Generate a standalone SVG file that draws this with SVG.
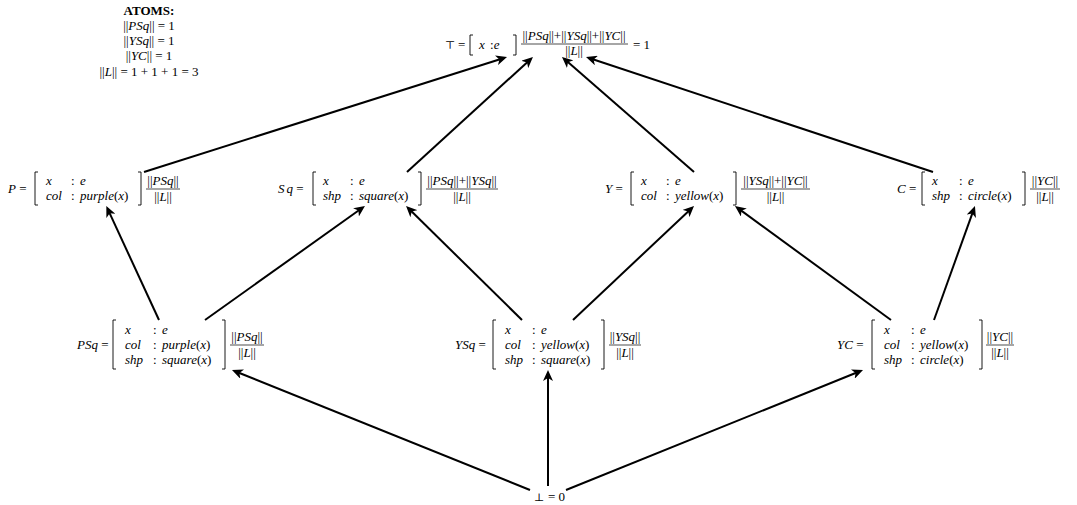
<svg xmlns="http://www.w3.org/2000/svg" width="1077" height="505" viewBox="0 0 1077 505">
<defs>
<style>
text{font-family:"Liberation Serif","Times New Roman",serif;font-size:13px;fill:#000}
.i{font-style:italic}
.bd{font-weight:bold}
.m{text-anchor:middle}
.sym{font-family:"DejaVu Serif","Liberation Serif",serif;font-size:11px}
.br{fill:none;stroke:#000;stroke-width:0.9}
.fb{stroke:#000;stroke-width:0.7}
.edge{stroke:#000;stroke-width:2;fill:none;marker-end:url(#ah)}
</style>
<marker id="ah" markerUnits="userSpaceOnUse" markerWidth="12" markerHeight="10" refX="7" refY="5" orient="auto">
<path d="M0,0 L11,5 L0,10 L3,5 z" fill="#000"/>
</marker>
</defs>
<rect width="1077" height="505" fill="#fff"/>

<g id="atoms">
<text class="m bd" x="149" y="15">ATOMS:</text>
<text class="m" x="149" y="30">||<tspan class="i">PSq</tspan>|| = 1</text>
<text class="m" x="149" y="45">||<tspan class="i">YSq</tspan>|| = 1</text>
<text class="m" x="149" y="60">||<tspan class="i">YC</tspan>|| = 1</text>
<text class="m" x="149" y="76">||<tspan class="i">L</tspan>|| = 1 + 1 + 1 = 3</text>
</g>

<g id="edges">
<line class="edge" x1="144" y1="172" x2="503.2" y2="58.2"/>
<line class="edge" x1="407" y1="172" x2="530" y2="59.7"/>
<line class="edge" x1="694" y1="172" x2="565" y2="59.6"/>
<line class="edge" x1="933" y1="172" x2="589.8" y2="58.3"/>
<line class="edge" x1="159" y1="320" x2="108" y2="209.6"/>
<line class="edge" x1="205" y1="320" x2="361.7" y2="208.3"/>
<line class="edge" x1="522" y1="320" x2="408.9" y2="208.8"/>
<line class="edge" x1="573" y1="320" x2="691.1" y2="208.7"/>
<line class="edge" x1="891" y1="320" x2="738.2" y2="208.4"/>
<line class="edge" x1="934" y1="320" x2="973.6" y2="209.8"/>
<line class="edge" x1="530" y1="490" x2="235.7" y2="371.5"/>
<line class="edge" x1="548" y1="486" x2="548" y2="374"/>
<line class="edge" x1="566" y1="490" x2="859.3" y2="371.5"/>
</g>

<g id="nTop">
<text class="sym" x="445" y="49">⊤</text>
<text x="458" y="49">=</text>
<path class="br" d="M473,35 H470 V55 H473"/>
<text class="i" x="479" y="49">x</text>
<text x="490" y="49">:<tspan class="i">e</tspan></text>
<path class="br" d="M513,35 H516 V55 H513"/>
<text class="m" x="574" y="40">||<tspan class="i">PSq</tspan>||+||<tspan class="i">YSq</tspan>||+||<tspan class="i">YC</tspan>||</text>
<line class="fb" x1="521" y1="44" x2="628" y2="44"/>
<text class="m" x="574" y="55">||<tspan class="i">L</tspan>||</text>
<text x="633" y="49">= 1</text>
</g>

<g id="nP">
<text x="8" y="193"><tspan class="i">P</tspan> =</text>
<path class="br" d="M38,172 H35 V205 H38"/>
<text class="i" x="46" y="185">x</text><text x="71" y="185">:</text><text class="i" x="80" y="185">e</text>
<text class="i" x="46" y="200">col</text><text x="71" y="200">:</text><text x="80" y="200"><tspan class="i">purple</tspan>(<tspan class="i">x</tspan>)</text>
<path class="br" d="M138,172 H141 V205 H138"/>
<text class="m" x="163" y="185">||<tspan class="i">PSq</tspan>||</text>
<line class="fb" x1="146" y1="189" x2="180" y2="189"/>
<text class="m" x="163" y="201">||<tspan class="i">L</tspan>||</text>
</g>

<g id="nSq">
<text x="278" y="193"><tspan class="i">S</tspan><tspan class="i" dx="2">q</tspan> =</text>
<path class="br" d="M316,172 H313 V205 H316"/>
<text class="i" x="323" y="185">x</text><text x="350" y="185">:</text><text class="i" x="359" y="185">e</text>
<text class="i" x="323" y="200">shp</text><text x="350" y="200">:</text><text x="359" y="200"><tspan class="i">square</tspan>(<tspan class="i">x</tspan>)</text>
<path class="br" d="M418,172 H421 V205 H418"/>
<text class="m" x="462" y="185">||<tspan class="i">PSq</tspan>||+||<tspan class="i">YSq</tspan>||</text>
<line class="fb" x1="426" y1="189" x2="498" y2="189"/>
<text class="m" x="462" y="201">||<tspan class="i">L</tspan>||</text>
</g>

<g id="nY">
<text x="605" y="193"><tspan class="i">Y</tspan> =</text>
<path class="br" d="M634,172 H631 V205 H634"/>
<text class="i" x="641" y="185">x</text><text x="666" y="185">:</text><text class="i" x="675" y="185">e</text>
<text class="i" x="641" y="200">col</text><text x="666" y="200">:</text><text x="675" y="200"><tspan class="i">yellow</tspan>(<tspan class="i">x</tspan>)</text>
<path class="br" d="M733,172 H736 V205 H733"/>
<text class="m" x="775.5" y="185">||<tspan class="i">YSq</tspan>||+||<tspan class="i">YC</tspan>||</text>
<line class="fb" x1="741" y1="189" x2="810" y2="189"/>
<text class="m" x="775.5" y="201">||<tspan class="i">L</tspan>||</text>
</g>

<g id="nC">
<text x="897" y="193"><tspan class="i">C</tspan> =</text>
<path class="br" d="M925,172 H922 V205 H925"/>
<text class="i" x="932" y="185">x</text><text x="959" y="185">:</text><text class="i" x="968" y="185">e</text>
<text class="i" x="932" y="200">shp</text><text x="959" y="200">:</text><text x="968" y="200"><tspan class="i">circle</tspan>(<tspan class="i">x</tspan>)</text>
<path class="br" d="M1022,172 H1025 V205 H1022"/>
<text class="m" x="1045" y="185">||<tspan class="i">YC</tspan>||</text>
<line class="fb" x1="1030" y1="189" x2="1060" y2="189"/>
<text class="m" x="1045" y="201">||<tspan class="i">L</tspan>||</text>
</g>

<g id="nPSq">
<text x="77" y="349"><tspan class="i">PSq</tspan> =</text>
<path class="br" d="M116,320 H113 V369 H116"/>
<text class="i" x="125" y="334">x</text><text x="153" y="334">:</text><text class="i" x="162" y="334">e</text>
<text class="i" x="125" y="349">col</text><text x="153" y="349">:</text><text x="162" y="349"><tspan class="i">purple</tspan>(<tspan class="i">x</tspan>)</text>
<text class="i" x="125" y="364">shp</text><text x="153" y="364">:</text><text x="162" y="364"><tspan class="i">square</tspan>(<tspan class="i">x</tspan>)</text>
<path class="br" d="M222,320 H225 V369 H222"/>
<text class="m" x="247" y="341">||<tspan class="i">PSq</tspan>||</text>
<line class="fb" x1="230" y1="345" x2="264" y2="345"/>
<text class="m" x="247" y="357">||<tspan class="i">L</tspan>||</text>
</g>

<g id="nYSq">
<text x="455" y="349"><tspan class="i">YSq</tspan> =</text>
<path class="br" d="M496,320 H493 V369 H496"/>
<text class="i" x="505" y="334">x</text><text x="532" y="334">:</text><text class="i" x="541" y="334">e</text>
<text class="i" x="505" y="349">col</text><text x="532" y="349">:</text><text x="541" y="349"><tspan class="i">yellow</tspan>(<tspan class="i">x</tspan>)</text>
<text class="i" x="505" y="364">shp</text><text x="532" y="364">:</text><text x="541" y="364"><tspan class="i">square</tspan>(<tspan class="i">x</tspan>)</text>
<path class="br" d="M601,320 H604 V369 H601"/>
<text class="m" x="625" y="341">||<tspan class="i">YSq</tspan>||</text>
<line class="fb" x1="609" y1="345" x2="641" y2="345"/>
<text class="m" x="625" y="357">||<tspan class="i">L</tspan>||</text>
</g>

<g id="nYC">
<text x="837" y="349"><tspan class="i">YC</tspan> =</text>
<path class="br" d="M875,320 H872 V369 H875"/>
<text class="i" x="884" y="334">x</text><text x="911" y="334">:</text><text class="i" x="920" y="334">e</text>
<text class="i" x="884" y="349">col</text><text x="911" y="349">:</text><text x="920" y="349"><tspan class="i">yellow</tspan>(<tspan class="i">x</tspan>)</text>
<text class="i" x="884" y="364">shp</text><text x="911" y="364">:</text><text x="920" y="364"><tspan class="i">circle</tspan>(<tspan class="i">x</tspan>)</text>
<path class="br" d="M979,320 H982 V369 H979"/>
<text class="m" x="1000" y="341">||<tspan class="i">YC</tspan>||</text>
<line class="fb" x1="986" y1="345" x2="1014" y2="345"/>
<text class="m" x="1000" y="357">||<tspan class="i">L</tspan>||</text>
</g>

<g id="nBot">
<text class="sym" x="534" y="501">⊥</text>
<text x="548" y="501">= 0</text>
</g>
</svg>
